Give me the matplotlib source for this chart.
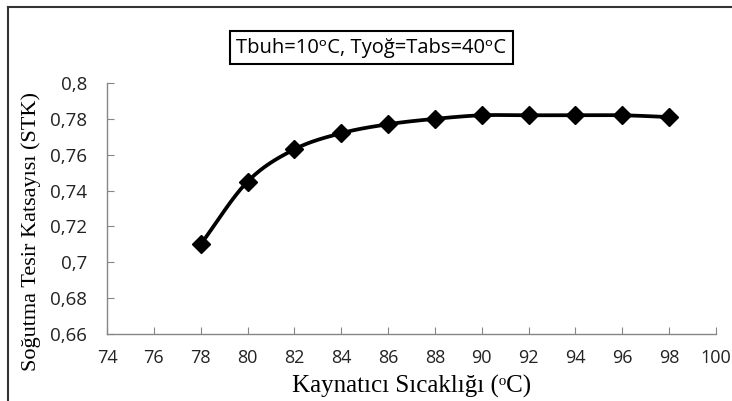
import numpy as np
import matplotlib
matplotlib.use("Agg")
import matplotlib.pyplot as plt
from matplotlib.lines import Line2D

# data
temps = [78, 80, 82, 84, 86, 88, 90, 92, 94, 96, 98]
stk = [0.710, 0.745, 0.763, 0.772, 0.777, 0.780, 0.782, 0.782, 0.782, 0.782, 0.781]
xticks = [74, 76, 78, 80, 82, 84, 86, 88, 90, 92, 94, 96, 98, 100]
yticks = [0.66, 0.68, 0.70, 0.72, 0.74, 0.76, 0.78, 0.80]


def smooth(x, y, n=20):
    # catmull-rom curve through the points, like excel's smoothed line
    x = np.asarray(x, float)
    y = np.asarray(y, float)
    px = np.concatenate([[2 * x[0] - x[1]], x, [2 * x[-1] - x[-2]]])
    py = np.concatenate([[2 * y[0] - y[1]], y, [2 * y[-1] - y[-2]]])
    xs, ys = [], []
    t = np.linspace(0, 1, n)
    for i in range(1, len(px) - 2):
        for p, out in ((px, xs), (py, ys)):
            p0, p1, p2, p3 = p[i - 1], p[i], p[i + 1], p[i + 2]
            out.extend(0.5 * ((2 * p1) + (-p0 + p2) * t
                              + (2 * p0 - 5 * p1 + 4 * p2 - p3) * t ** 2
                              + (-p0 + 3 * p1 - 3 * p2 + p3) * t ** 3))
    return xs, ys


fig = plt.figure(figsize=(7.32, 4.01), dpi=100)
ax = fig.add_axes([0.1462, 0.1671, 0.8318, 0.6259])

sx, sy = smooth(temps, stk)
ax.plot(sx, sy, color="black", lw=2.7, solid_capstyle="round")
ax.plot(temps, stk, ls="none", marker="D", ms=9.5, color="black")

ax.set_xlim(74, 100)
ax.set_ylim(0.66, 0.80)
ax.set_xticks(xticks)
ax.set_yticks(yticks)
ax.set_xticklabels([str(v) for v in xticks], fontfamily="Open Sans", fontsize=13, color="#222222")
ax.set_yticklabels([("%g" % v).replace(".", ",") for v in yticks], fontfamily="Open Sans", fontsize=13.5, color="#222222")
ax.tick_params(axis="x", direction="in", length=5, color="#868686", pad=11)
ax.tick_params(axis="y", direction="in", length=5, color="#868686", pad=14.5)

for s in ["top", "right"]:
    ax.spines[s].set_visible(False)
for s in ["left", "bottom"]:
    ax.spines[s].set_color("#868686")
    ax.spines[s].set_linewidth(1)

ax.set_xlabel("Kaynatıcı Sıcaklığı (ᵒC)", family=["Liberation Serif", "DejaVu Serif"], fontsize=18)
ax.set_ylabel("Soğutma Tesir Katsayısı (STK)", fontfamily="Liberation Serif", fontsize=16)
ax.xaxis.set_label_coords(0.5, -0.165)
ax.yaxis.set_label_coords(-0.109, 0.41)

fig.text(0.507, 0.8815, "Tbuh=10ᵒC, Tyoğ=Tabs=40ᵒC", family=["Open Sans", "DejaVu Sans"],
         fontsize=14.5, ha="center", va="center",
         bbox=dict(boxstyle="square,pad=0.32", fc="white", ec="black", lw=1.5))

# outer frame, only top and left edges visible
fig.add_artist(Line2D([0.011, 1.0], [0.9825, 0.9825], color="#333333", lw=1.5, transform=fig.transFigure))
fig.add_artist(Line2D([0.011, 0.011], [0.0, 0.9825], color="#333333", lw=1.5, transform=fig.transFigure))

fig.savefig("out.png", dpi=100)
